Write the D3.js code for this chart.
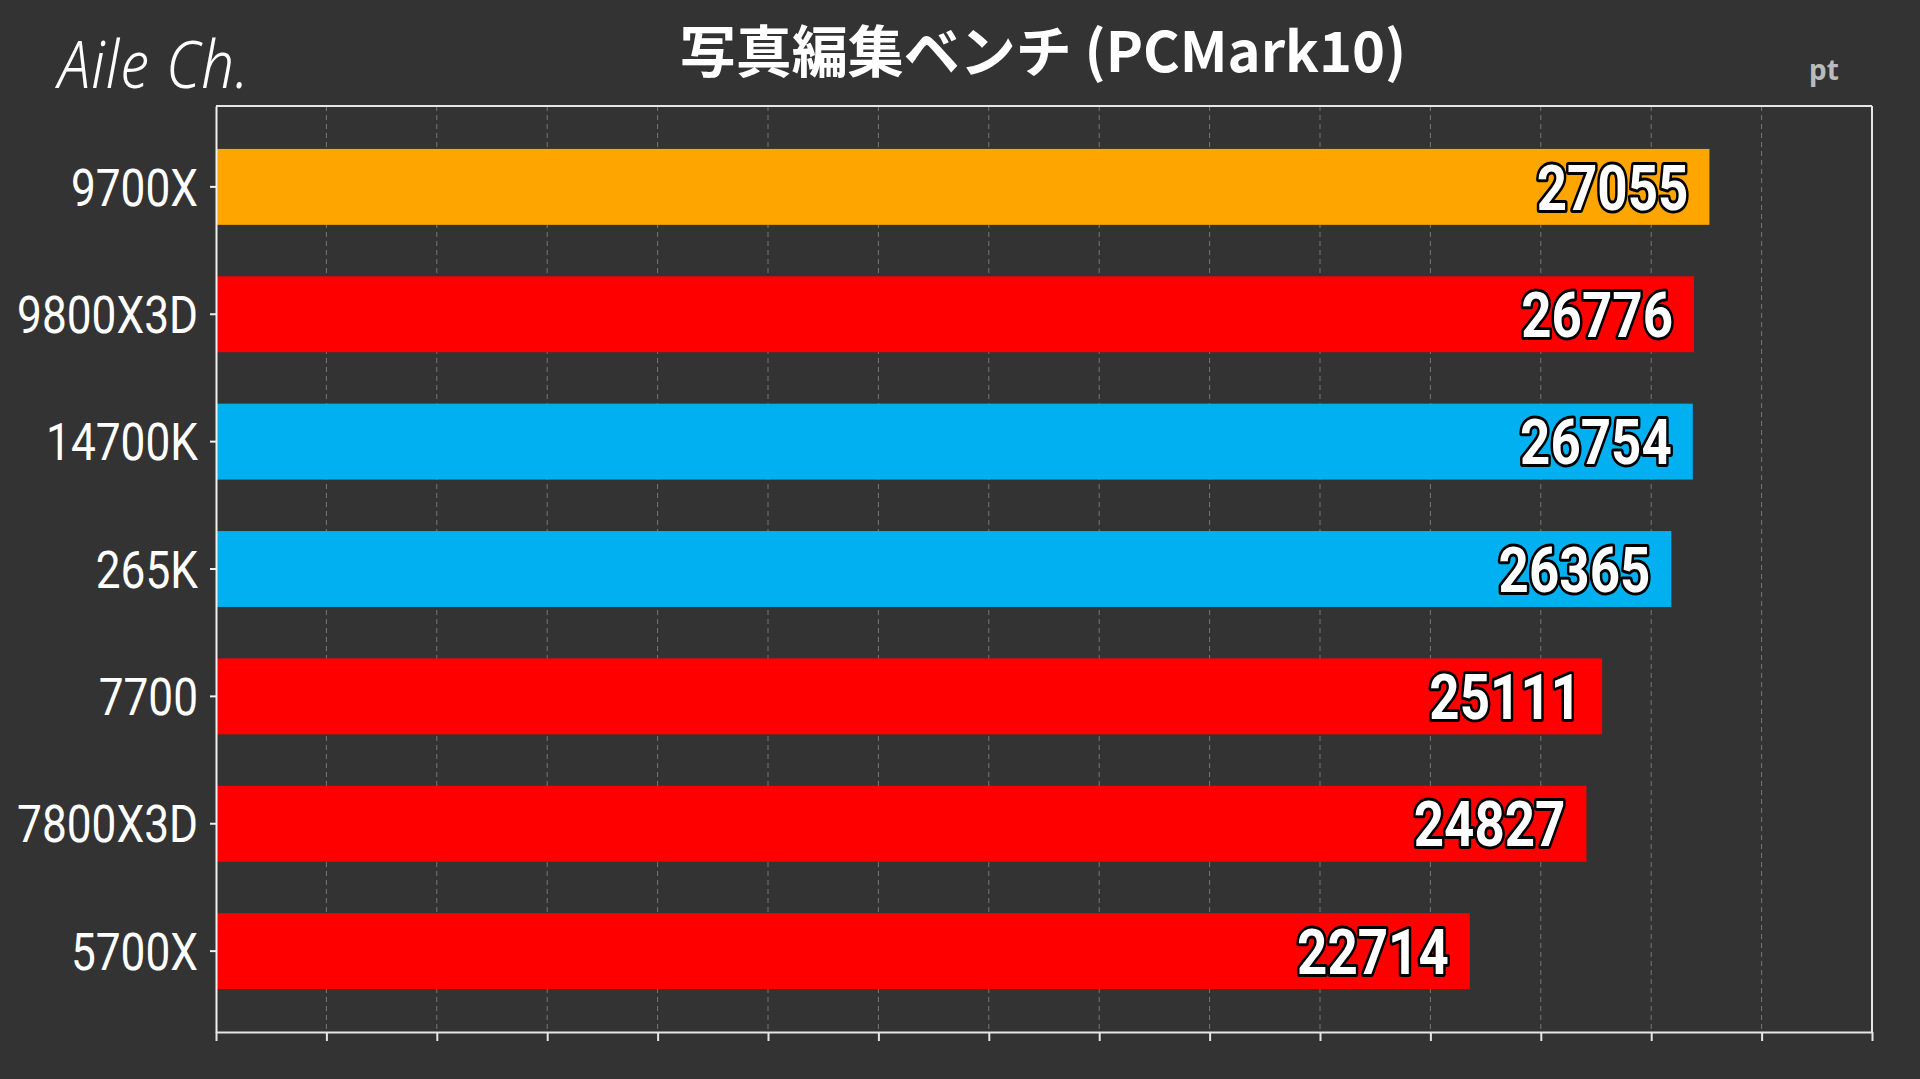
<!DOCTYPE html>
<html>
<head>
<meta charset="utf-8">
<script src="https://d3js.org/d3.v7.min.js"></script>
<style>
  body { margin: 0; background: #333333; overflow: hidden; }
</style>
</head>
<body>
<div id="chart"></div>
<script>
// data
const cpus = ["9700X", "9800X3D", "14700K", "265K", "7700", "7800X3D", "5700X"];
const scores = [27055, 26776, 26754, 26365, 25111, 24827, 22714];
const brands = ["hi", "amd", "intel", "intel", "amd", "amd", "amd"];
const xTicks = d3.range(0, 30001, 2000);
const title = "写真編集ベンチ (PCMark10)";
const unit = "pt";

const W = 1920, H = 1079;
const margin = {top: 106, right: 48, bottom: 47, left: 216};
const width = W - margin.left - margin.right,
      height = H - margin.top - margin.bottom;

const color = d3.scaleOrdinal()
  .domain(["hi", "amd", "intel"])
  .range(["#FFA500", "#FF0000", "#00B0F0"]);

const svg = d3.select("#chart").append("svg")
  .attr("width", W).attr("height", H);

svg.append("rect").attr("width", W).attr("height", H).attr("fill", "#333333");

// title + logo + unit
svg.append("text")
  .attr("x", 1043).attr("y", 72)
  .attr("text-anchor", "middle")
  .attr("fill", "#fff")
  .attr("font-family", "'Noto Sans CJK JP', 'Noto Sans', sans-serif")
  .attr("font-weight", "bold")
  .attr("font-size", 56)
  .text(title);

svg.append("text")
  .attr("transform", "translate(58,88) scale(1.0,1.15)")
  .attr("fill", "#fff")
  .attr("font-family", "'Noto Sans', sans-serif")
  .attr("font-style", "italic")
  .attr("font-weight", 300)
  .attr("font-size", 58)
  .attr("letter-spacing", 1)
  .text("Aile Ch.");

svg.append("text")
  .attr("x", 1824).attr("y", 80)
  .attr("text-anchor", "middle")
  .attr("fill", "#bbbbbb")
  .attr("font-family", "'Noto Sans', sans-serif")
  .attr("font-weight", "bold")
  .attr("font-size", 28)
  .text(unit);

const g = svg.append("g").attr("transform", `translate(${margin.left},${margin.top})`);

const x = d3.scaleLinear().domain([0, 30000]).range([0, width]);
const y = d3.scaleBand().domain(cpus).range([0, height])
  .paddingInner(0.404).paddingOuter(0.337);

// dashed grid
g.append("g").selectAll("line")
  .data(xTicks.slice(1, -1))
  .join("line")
    .attr("x1", d => x(d)).attr("x2", d => x(d))
    .attr("y1", 0).attr("y2", height)
    .attr("stroke", "#777")
    .attr("stroke-width", 1)
    .attr("stroke-dasharray", "5,4");

// bars
g.append("g").selectAll("rect")
  .data(cpus)
  .join("rect")
    .attr("x", 0)
    .attr("y", d => y(d))
    .attr("width", (d, i) => x(scores[i]))
    .attr("height", y.bandwidth())
    .attr("fill", (d, i) => color(brands[i]));

// value labels (condensed via scaleX)
g.append("g").selectAll("text")
  .data(cpus)
  .join("text")
    .attr("transform", (d, i) =>
      `translate(${x(scores[i]) - 21},${y(d) + y.bandwidth() / 2}) scale(0.84,1)`)
    .attr("dy", "0.36em")
    .attr("text-anchor", "end")
    .attr("font-family", "Roboto, sans-serif")
    .attr("font-weight", "bold")
    .attr("font-size", 63)
    .attr("fill", "#fff")
    .attr("stroke", "#000")
    .attr("stroke-width", 6)
    .attr("stroke-linejoin", "round")
    .attr("paint-order", "stroke")
    .text((d, i) => scores[i]);

// frame: top and right
g.append("line").attr("x1", 0).attr("x2", width).attr("y1", 0).attr("y2", 0)
  .attr("stroke", "#e6e6e6").attr("stroke-width", 2);
g.append("line").attr("x1", width).attr("x2", width).attr("y1", 0).attr("y2", height)
  .attr("stroke", "#e6e6e6").attr("stroke-width", 2);

// bottom axis (ticks only)
const xAxis = g.append("g")
  .attr("transform", `translate(0,${height})`)
  .call(d3.axisBottom(x).tickValues(xTicks).tickSize(9).tickSizeOuter(0).tickFormat(""));
xAxis.select(".domain").attr("stroke", "#e6e6e6").attr("stroke-width", 2);
xAxis.selectAll(".tick line").attr("stroke", "#e6e6e6").attr("stroke-width", 2);

// left axis
const yAxis = g.append("g")
  .call(d3.axisLeft(y).tickSize(6).tickSizeOuter(0).tickFormat(""));
yAxis.select(".domain").attr("stroke", "#f0f0f0").attr("stroke-width", 2);
yAxis.selectAll(".tick line").attr("stroke", "#f0f0f0").attr("stroke-width", 2);

g.append("g").selectAll("text")
  .data(cpus)
  .join("text")
    .attr("transform", d => `translate(-18,${y(d) + y.bandwidth() / 2}) scale(0.85,1)`)
    .attr("dy", "0.36em")
    .attr("text-anchor", "end")
    .attr("font-family", "Roboto, sans-serif")
    .attr("font-weight", 400)
    .attr("font-size", 52)
    .attr("fill", "#fff")
    .text(d => d);
</script>
</body>
</html>
